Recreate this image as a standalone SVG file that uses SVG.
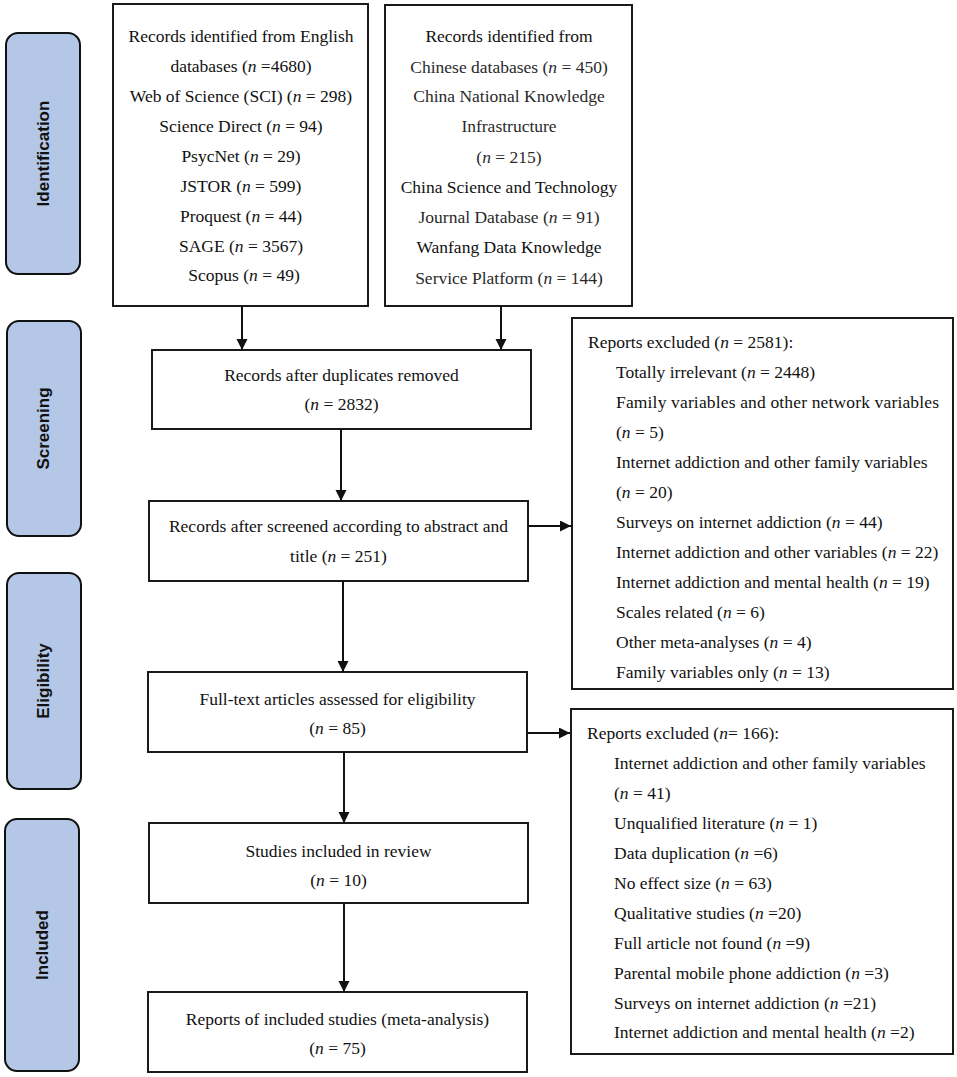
<svg xmlns="http://www.w3.org/2000/svg" width="957" height="1077" viewBox="0 0 957 1077">
<style>
.bg{fill:#ffffff}
.box{fill:#ffffff;stroke:#1a1a1a;stroke-width:2}
.side{fill:#b4c7e7;stroke:#111111;stroke-width:2}
.sl{font-family:"Liberation Sans",Arial,sans-serif;font-weight:bold;font-size:17px;fill:#111111;text-anchor:middle}
.t{font-family:"Liberation Serif","Times New Roman",serif;font-size:17.5px;fill:#111111}
.c{text-anchor:middle}
.g{fill:#2a2a2a}
.i{font-style:italic}
.conn{stroke:#111111;stroke-width:2;fill:none;marker-end:url(#ah)}
</style>
<defs>
<marker id="ah" markerUnits="userSpaceOnUse" markerWidth="12" markerHeight="12" refX="11" refY="5.5" orient="auto">
<path d="M0,0 L11,5.5 L0,11 z" fill="#111111"/>
</marker>
</defs>
<rect class="bg" x="0" y="0" width="957" height="1077"/>

<g id="phase-identification">
<rect class="side" x="6" y="33" width="74" height="241" rx="12"/>
<text class="sl" transform="translate(49,153.5) rotate(-90)">Identification</text>
</g>
<g id="phase-screening">
<rect class="side" x="7" y="321" width="74" height="215" rx="12"/>
<text class="sl" transform="translate(49,428.5) rotate(-90)">Screening</text>
</g>
<g id="phase-eligibility">
<rect class="side" x="7" y="573" width="74" height="216" rx="12"/>
<text class="sl" transform="translate(49,681) rotate(-90)">Eligibility</text>
</g>
<g id="phase-included">
<rect class="side" x="5" y="819" width="74" height="252" rx="12"/>
<text class="sl" transform="translate(48,945) rotate(-90)">Included</text>
</g>

<g id="english-records">
<rect class="box" x="113" y="4" width="255" height="302"/>
<text class="t c" x="241" y="42">Records identified from English</text>
<text class="t c" x="241" y="72">databases (<tspan class="i">n</tspan> =4680)</text>
<text class="t c" x="241" y="102">Web of Science (SCI) (<tspan class="i">n</tspan> = 298)</text>
<text class="t c" x="241" y="132">Science Direct (<tspan class="i">n</tspan> = 94)</text>
<text class="t c" x="241" y="162">PsycNet (<tspan class="i">n</tspan> = 29)</text>
<text class="t c" x="241" y="192">JSTOR (<tspan class="i">n</tspan> = 599)</text>
<text class="t c" x="241" y="222">Proquest (<tspan class="i">n</tspan> = 44)</text>
<text class="t c" x="241" y="252">SAGE (<tspan class="i">n</tspan> = 3567)</text>
<text class="t c" x="244" y="281">Scopus (<tspan class="i">n</tspan> = 49)</text>
</g>

<g id="chinese-records">
<rect class="box" x="385" y="5" width="247" height="301"/>
<text class="t c" x="509" y="42">Records identified from</text>
<text class="t c g" x="509" y="73">Chinese databases (<tspan class="i">n</tspan> = 450)</text>
<text class="t c g" x="509" y="102">China National Knowledge</text>
<text class="t c g" x="509" y="132">Infrastructure</text>
<text class="t c g" x="509" y="163">(<tspan class="i">n</tspan> = 215)</text>
<text class="t c" x="509" y="193">China Science and Technology</text>
<text class="t c g" x="509" y="223">Journal Database (<tspan class="i">n</tspan> = 91)</text>
<text class="t c" x="509" y="253">Wanfang Data Knowledge</text>
<text class="t c g" x="509" y="284">Service Platform (<tspan class="i">n</tspan> = 144)</text>
</g>

<g id="after-duplicates">
<rect class="box" x="152" y="350" width="379" height="79"/>
<text class="t c" x="341.5" y="381">Records after duplicates removed</text>
<text class="t c" x="341.5" y="410">(<tspan class="i">n</tspan> = 2832)</text>
</g>

<g id="after-screened">
<rect class="box" x="149" y="501" width="379" height="80"/>
<text class="t c" x="338.5" y="532">Records after screened according to abstract and</text>
<text class="t c" x="338.5" y="562">title (<tspan class="i">n</tspan> = 251)</text>
</g>

<g id="full-text">
<rect class="box" x="148" y="672" width="379" height="80"/>
<text class="t c" x="337.5" y="705">Full-text articles assessed for eligibility</text>
<text class="t c" x="337.5" y="734">(<tspan class="i">n</tspan> = 85)</text>
</g>

<g id="studies-included">
<rect class="box" x="149" y="823" width="379" height="80"/>
<text class="t c" x="338.5" y="857">Studies included in review</text>
<text class="t c" x="338.5" y="886">(<tspan class="i">n</tspan> = 10)</text>
</g>

<g id="reports-included">
<rect class="box" x="148" y="992" width="379" height="80"/>
<text class="t c" x="337.5" y="1025">Reports of included studies (meta-analysis)</text>
<text class="t c" x="337.5" y="1054">(<tspan class="i">n</tspan> = 75)</text>
</g>

<g id="excluded-screening">
<rect class="box" x="572" y="318" width="381" height="371"/>
<text class="t" x="588" y="348">Reports excluded (<tspan class="i">n</tspan> = 2581):</text>
<text class="t" x="616" y="378">Totally irrelevant (<tspan class="i">n</tspan> = 2448)</text>
<text class="t" x="616" y="408" textLength="323" lengthAdjust="spacing">Family variables and other network variables</text>
<text class="t" x="616" y="438">(<tspan class="i">n</tspan> = 5)</text>
<text class="t" x="616" y="468">Internet addiction and other family variables</text>
<text class="t" x="616" y="498">(<tspan class="i">n</tspan> = 20)</text>
<text class="t" x="616" y="528">Surveys on internet addiction (<tspan class="i">n</tspan> = 44)</text>
<text class="t" x="616" y="558">Internet addiction and other variables (<tspan class="i">n</tspan> = 22)</text>
<text class="t" x="616" y="588">Internet addiction and mental health (<tspan class="i">n</tspan> = 19)</text>
<text class="t" x="616" y="618">Scales related (<tspan class="i">n</tspan> = 6)</text>
<text class="t" x="616" y="648">Other meta-analyses (<tspan class="i">n</tspan> = 4)</text>
<text class="t" x="616" y="678">Family variables only (<tspan class="i">n</tspan> = 13)</text>
</g>

<g id="excluded-eligibility">
<rect class="box" x="571" y="709" width="382" height="345"/>
<text class="t" x="587" y="739">Reports excluded (<tspan class="i">n</tspan>= 166):</text>
<text class="t" x="614" y="769">Internet addiction and other family variables</text>
<text class="t" x="614" y="799">(<tspan class="i">n</tspan> = 41)</text>
<text class="t" x="614" y="829">Unqualified literature (<tspan class="i">n</tspan> = 1)</text>
<text class="t" x="614" y="859">Data duplication (<tspan class="i">n</tspan> =6)</text>
<text class="t" x="614" y="889">No effect size (<tspan class="i">n</tspan> = 63)</text>
<text class="t" x="614" y="919">Qualitative studies (<tspan class="i">n</tspan> =20)</text>
<text class="t" x="614" y="949">Full article not found (<tspan class="i">n</tspan> =9)</text>
<text class="t" x="614" y="979">Parental mobile phone addiction (<tspan class="i">n</tspan> =3)</text>
<text class="t" x="614" y="1009">Surveys on internet addiction (<tspan class="i">n</tspan> =21)</text>
<text class="t" x="614" y="1038">Internet addiction and mental health (<tspan class="i">n</tspan> =2)</text>
</g>

<g id="connectors">
<path class="conn" d="M242 306 V350"/>
<path class="conn" d="M501 306 V350"/>
<path class="conn" d="M341 429 V501"/>
<path class="conn" d="M528 526 H571"/>
<path class="conn" d="M343 581 V672"/>
<path class="conn" d="M527 733 H570"/>
<path class="conn" d="M344 752 V823"/>
<path class="conn" d="M344 903 V992"/>
</g>
</svg>
